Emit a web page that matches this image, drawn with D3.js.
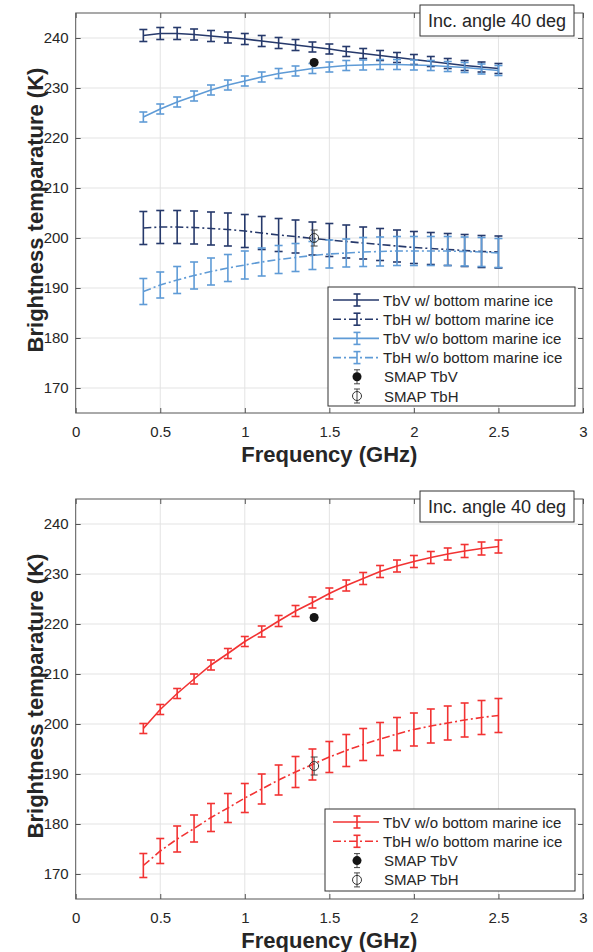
<!DOCTYPE html>
<html>
<head>
<meta charset="utf-8">
<script src="https://cdn.jsdelivr.net/npm/d3@7"></script>
<style>
  body { margin: 0; background: #fff; }
  svg { display: block; font-family: "Liberation Sans", Arial, Helvetica, sans-serif; }
</style>
</head>
<body>
<svg id="chart" width="593" height="952"></svg>
<script>
// ---------------- DATA ----------------
const freq = [0.4,0.5,0.6,0.7,0.8,0.9,1.0,1.1,1.2,1.3,1.4,1.5,1.6,1.7,1.8,1.9,2.0,2.1,2.2,2.3,2.4,2.5];

// Top panel
const tbvWith    = [240.5,240.9,240.9,240.7,240.4,240.1,239.8,239.4,239.0,238.6,238.2,237.8,237.3,236.9,236.5,236.1,235.7,235.3,234.9,234.5,234.2,233.9];
const tbvWithErr = [1.2,1.2,1.2,1.1,1.1,1.1,1.1,1.1,1.1,1.1,1.0,1.0,1.0,1.0,1.0,1.0,1.0,1.0,1.0,1.0,1.0,1.0];
const tbhWith    = [202.0,202.2,202.2,202.1,201.9,201.7,201.4,201.0,200.6,200.3,199.9,199.6,199.3,199.0,198.7,198.4,198.1,197.9,197.7,197.5,197.3,197.2];
const tbhWithErr = [3.3,3.3,3.3,3.3,3.3,3.3,3.3,3.3,3.3,3.3,3.3,3.3,3.3,3.2,3.2,3.2,3.2,3.2,3.2,3.2,3.2,3.2];
const tbvWo      = [224.2,225.8,227.2,228.4,229.6,230.6,231.4,232.2,232.9,233.4,233.9,234.2,234.5,234.6,234.7,234.7,234.6,234.5,234.3,234.1,233.8,233.5];
const tbvWoErr   = [1.0,1.0,1.0,1.0,1.0,1.0,1.0,1.0,1.0,1.0,1.0,1.0,1.0,1.0,1.0,1.0,1.0,1.0,1.0,1.0,1.0,1.0];
const tbhWo      = [189.3,190.6,191.6,192.5,193.3,194.0,194.6,195.2,195.7,196.1,196.5,196.8,197.0,197.2,197.3,197.4,197.4,197.4,197.4,197.3,197.2,197.0];
const tbhWoErr   = [2.6,2.6,2.7,2.7,2.7,2.7,2.8,2.8,2.8,2.8,2.8,2.8,2.8,2.9,2.9,2.9,2.9,2.9,2.9,2.9,2.9,2.9];
const smapFreq   = 1.41;
const smapTop    = { tbv: 235.1, tbvErr: 0.4, tbh: 200.0, tbhErr: 1.6 };

// Bottom panel
const tbvRed     = [199.1,202.9,206.1,209.0,211.8,214.1,216.5,218.5,220.6,222.6,224.3,226.1,227.7,229.1,230.5,231.6,232.5,233.3,234.0,234.6,235.1,235.5];
const tbvRedErr  = [1.0,1.0,1.0,1.0,1.0,1.0,1.0,1.1,1.1,1.1,1.1,1.1,1.1,1.2,1.2,1.2,1.2,1.2,1.2,1.3,1.3,1.3];
const tbhRed     = [171.7,174.6,177.0,179.1,181.3,183.2,185.2,187.0,188.8,190.4,191.9,193.4,194.7,195.9,197.0,198.0,198.9,199.6,200.2,200.8,201.3,201.7];
const tbhRedErr  = [2.4,2.5,2.6,2.7,2.8,2.9,2.9,3.0,3.0,3.1,3.1,3.1,3.2,3.2,3.3,3.3,3.3,3.4,3.4,3.4,3.4,3.4];
const smapBottom = { tbv: 221.3, tbvErr: 0.4, tbh: 191.6, tbhErr: 1.8 };

const xTicks = [0, 0.5, 1, 1.5, 2, 2.5, 3];
const xTickLabels = ["0", "0.5", "1", "1.5", "2", "2.5", "3"];
const yTicks = [170, 180, 190, 200, 210, 220, 230, 240];
const xDomain = [0, 3];
const yDomain = [165, 245];
const annotation = "Inc. angle 40 deg";
const xLabel = "Frequency (GHz)";
const yLabel = "Brightness temparature (K)";

const topLegend = ["TbV w/ bottom marine ice", "TbH w/ bottom marine ice", "TbV w/o bottom marine ice", "TbH w/o bottom marine ice", "SMAP TbV", "SMAP TbH"];
const bottomLegend = ["TbV w/o bottom marine ice", "TbH w/o bottom marine ice", "SMAP TbV", "SMAP TbH"];

// ---------------- STYLE ----------------
const NAVY = "#26396b";
const LIGHT = "#5f9bd6";
const RED = "#f23333";
const DASHDOT = "8,3,2,3";
const AXIS_COLOR = "#555";
const TEXT_COLOR = "#262626";

const svg = d3.select("#chart");
const left = 75.7, right = 583;

function drawPanel(cfg) {
  const x = d3.scaleLinear().domain(xDomain).range([left, right]);
  const y = d3.scaleLinear().domain(yDomain).range([cfg.bottom, cfg.top]);
  const g = svg.append("g");

  // grid
  g.append("g").selectAll("line").data(xTicks.slice(1, -1)).join("line")
    .attr("x1", d => x(d)).attr("x2", d => x(d))
    .attr("y1", cfg.top).attr("y2", cfg.bottom)
    .attr("stroke", "#e3e3e3").attr("stroke-width", 1);
  g.append("g").selectAll("line").data(yTicks).join("line")
    .attr("x1", left).attr("x2", right)
    .attr("y1", d => y(d)).attr("y2", d => y(d))
    .attr("stroke", "#e3e3e3").attr("stroke-width", 1);

  // axes
  const fmtX = (d, i) => xTickLabels[i];
  const ax = g.append("g").attr("transform", `translate(0,${cfg.bottom})`)
    .call(d3.axisBottom(x).tickValues(xTicks).tickFormat(fmtX).tickSizeInner(-5).tickSizeOuter(0).tickPadding(13));
  const ay = g.append("g").attr("transform", `translate(${left},0)`)
    .call(d3.axisLeft(y).tickValues(yTicks).tickFormat(d3.format("d")).tickSizeInner(-5).tickSizeOuter(0).tickPadding(7));
  const at = g.append("g").attr("transform", `translate(0,${cfg.top})`)
    .call(d3.axisTop(x).tickValues(xTicks).tickFormat("").tickSizeInner(-5).tickSizeOuter(0));
  const ar = g.append("g").attr("transform", `translate(${right},0)`)
    .call(d3.axisRight(y).tickValues(yTicks).tickFormat("").tickSizeInner(-5).tickSizeOuter(0));
  [ax, ay, at, ar].forEach(a => {
    a.select(".domain").remove();
    a.selectAll(".tick line").attr("stroke", AXIS_COLOR);
    a.selectAll("text").attr("fill", TEXT_COLOR).attr("font-size", 15)
      .attr("font-family", "Liberation Sans, Arial, sans-serif");
  });

  // box
  g.append("rect").attr("x", left).attr("y", cfg.top)
    .attr("width", right - left).attr("height", cfg.bottom - cfg.top)
    .attr("fill", "none").attr("stroke", AXIS_COLOR).attr("stroke-width", 1);

  // labels
  g.append("text").attr("x", (left + right) / 2).attr("y", cfg.bottom + 49)
    .attr("text-anchor", "middle").attr("font-weight", "bold").attr("font-size", 22)
    .attr("fill", TEXT_COLOR).text(xLabel);
  g.append("text")
    .attr("transform", `translate(43,${(cfg.top + cfg.bottom) / 2 - 3}) rotate(-90)`)
    .attr("text-anchor", "middle").attr("font-weight", "bold").attr("font-size", 22)
    .attr("fill", TEXT_COLOR).text(yLabel);

  // series
  const cap = 4;
  cfg.series.forEach(s => {
    const pts = freq.map((f, i) => ({ f, v: s.values[i], e: s.err[i] }));
    const line = d3.line().x(d => x(d.f)).y(d => y(d.v));
    g.append("path").datum(pts).attr("d", line)
      .attr("fill", "none").attr("stroke", s.color).attr("stroke-width", 1.6)
      .attr("stroke-dasharray", s.dash || null);
    const eb = g.append("g").attr("stroke", s.color).attr("stroke-width", 1.6);
    eb.selectAll("line.v").data(pts).join("line").attr("class", "v")
      .attr("x1", d => x(d.f)).attr("x2", d => x(d.f))
      .attr("y1", d => y(d.v - d.e)).attr("y2", d => y(d.v + d.e));
    eb.selectAll("line.t").data(pts).join("line").attr("class", "t")
      .attr("x1", d => x(d.f) - cap).attr("x2", d => x(d.f) + cap)
      .attr("y1", d => y(d.v + d.e)).attr("y2", d => y(d.v + d.e));
    eb.selectAll("line.b").data(pts).join("line").attr("class", "b")
      .attr("x1", d => x(d.f) - cap).attr("x2", d => x(d.f) + cap)
      .attr("y1", d => y(d.v - d.e)).attr("y2", d => y(d.v - d.e));
  });

  // SMAP
  const sm = cfg.smap;
  const sx = x(smapFreq);
  const smg = g.append("g");
  [[sm.tbh, sm.tbhErr], [sm.tbv, sm.tbvErr]].forEach(([v, e]) => {
    smg.append("line").attr("x1", sx).attr("x2", sx).attr("y1", y(v - e)).attr("y2", y(v + e))
      .attr("stroke", "#444").attr("stroke-width", 1);
    smg.append("line").attr("x1", sx - 3.5).attr("x2", sx + 3.5).attr("y1", y(v + e)).attr("y2", y(v + e))
      .attr("stroke", "#444").attr("stroke-width", 1);
    smg.append("line").attr("x1", sx - 3.5).attr("x2", sx + 3.5).attr("y1", y(v - e)).attr("y2", y(v - e))
      .attr("stroke", "#444").attr("stroke-width", 1);
  });
  smg.append("circle").attr("cx", sx).attr("cy", y(sm.tbv)).attr("r", 4.5).attr("fill", "#151515");
  smg.append("circle").attr("cx", sx).attr("cy", y(sm.tbh)).attr("r", 4.5)
    .attr("fill", "none").attr("stroke", "#333").attr("stroke-width", 1);

  // annotation box
  g.append("rect").attr("x", 420).attr("y", cfg.top - 8).attr("width", 154).attr("height", 31)
    .attr("fill", "#fff").attr("stroke", "#333").attr("stroke-width", 1);
  g.append("text").attr("x", 497).attr("y", cfg.top + 14).attr("text-anchor", "middle")
    .attr("font-size", 18).attr("fill", TEXT_COLOR).text(annotation);

  // legend
  const L = cfg.legend;
  const lg = g.append("g");
  lg.append("rect").attr("x", L.x).attr("y", L.y).attr("width", L.w).attr("height", L.h)
    .attr("fill", "#fff").attr("stroke", "#333").attr("stroke-width", 1);
  L.items.forEach((it, i) => {
    const ry = L.y + L.first + i * L.step;
    const mx = 357;
    if (it.type === "line") {
      lg.append("line").attr("x1", 333).attr("x2", 379).attr("y1", ry).attr("y2", ry)
        .attr("stroke", it.color).attr("stroke-width", 1.6).attr("stroke-dasharray", it.dash || null);
      lg.append("line").attr("x1", mx).attr("x2", mx).attr("y1", ry - 6).attr("y2", ry + 6)
        .attr("stroke", it.color).attr("stroke-width", 1.6);
      lg.append("line").attr("x1", mx - 3.5).attr("x2", mx + 3.5).attr("y1", ry - 6).attr("y2", ry - 6)
        .attr("stroke", it.color).attr("stroke-width", 1.6);
      lg.append("line").attr("x1", mx - 3.5).attr("x2", mx + 3.5).attr("y1", ry + 6).attr("y2", ry + 6)
        .attr("stroke", it.color).attr("stroke-width", 1.6);
    } else {
      lg.append("line").attr("x1", mx).attr("x2", mx).attr("y1", ry - 7).attr("y2", ry + 7)
        .attr("stroke", "#444").attr("stroke-width", 1);
      lg.append("line").attr("x1", mx - 3).attr("x2", mx + 3).attr("y1", ry - 7).attr("y2", ry - 7)
        .attr("stroke", "#444").attr("stroke-width", 1);
      lg.append("line").attr("x1", mx - 3).attr("x2", mx + 3).attr("y1", ry + 7).attr("y2", ry + 7)
        .attr("stroke", "#444").attr("stroke-width", 1);
      if (it.type === "filled") {
        lg.append("circle").attr("cx", mx).attr("cy", ry).attr("r", 4.5).attr("fill", "#151515");
      } else {
        lg.append("circle").attr("cx", mx).attr("cy", ry).attr("r", 4.5).attr("fill", "none")
          .attr("stroke", "#333").attr("stroke-width", 1);
      }
    }
    lg.append("text").attr("x", it.type === "line" ? 383 : 384).attr("y", ry + 5.5)
      .attr("font-size", 15).attr("fill", TEXT_COLOR).text(it.label);
  });
}

drawPanel({
  top: 13, bottom: 413,
  series: [
    { values: tbvWith, err: tbvWithErr, color: NAVY },
    { values: tbhWith, err: tbhWithErr, color: NAVY, dash: DASHDOT },
    { values: tbvWo, err: tbvWoErr, color: LIGHT },
    { values: tbhWo, err: tbhWoErr, color: LIGHT, dash: DASHDOT }
  ],
  smap: smapTop,
  legend: {
    x: 328, y: 287, w: 247, h: 119, first: 13, step: 19.2,
    items: [
      { label: topLegend[0], type: "line", color: NAVY },
      { label: topLegend[1], type: "line", color: NAVY, dash: DASHDOT },
      { label: topLegend[2], type: "line", color: LIGHT },
      { label: topLegend[3], type: "line", color: LIGHT, dash: DASHDOT },
      { label: topLegend[4], type: "filled" },
      { label: topLegend[5], type: "open" }
    ]
  }
});

drawPanel({
  top: 499, bottom: 899,
  series: [
    { values: tbvRed, err: tbvRedErr, color: RED },
    { values: tbhRed, err: tbhRedErr, color: RED, dash: DASHDOT }
  ],
  smap: smapBottom,
  legend: {
    x: 325, y: 809, w: 250, h: 82, first: 13, step: 19.3,
    items: [
      { label: bottomLegend[0], type: "line", color: RED },
      { label: bottomLegend[1], type: "line", color: RED, dash: DASHDOT },
      { label: bottomLegend[2], type: "filled" },
      { label: bottomLegend[3], type: "open" }
    ]
  }
});
</script>
</body>
</html>
